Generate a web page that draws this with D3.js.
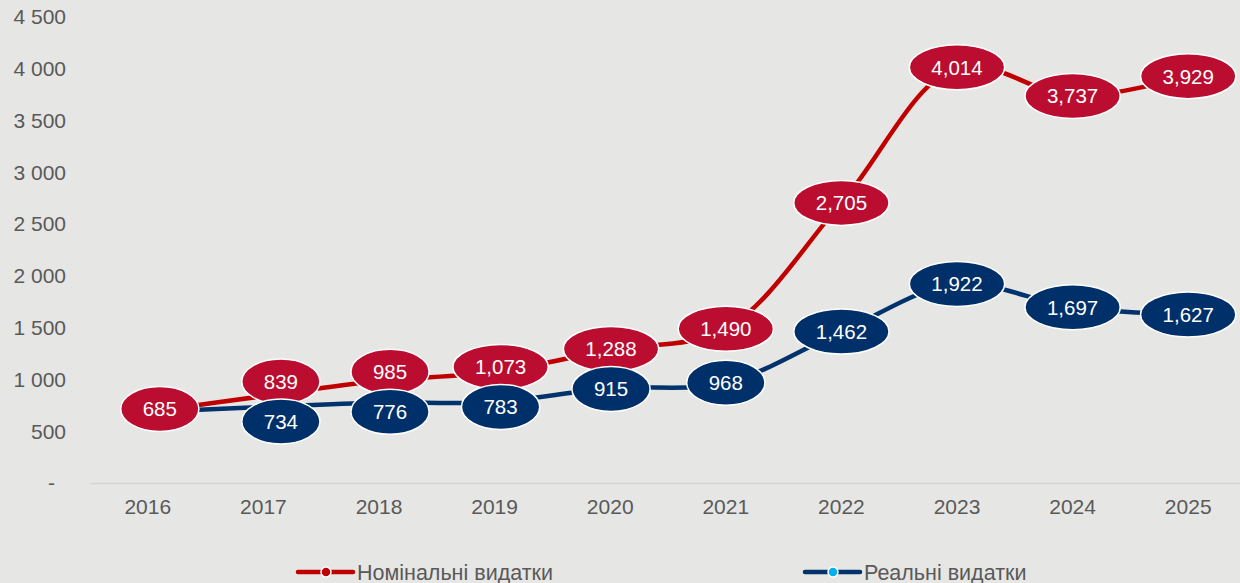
<!DOCTYPE html>
<html>
<head>
<meta charset="utf-8">
<script src="https://cdn.jsdelivr.net/npm/d3@7"></script>
<style>
  body { margin: 0; background: #e6e6e4; }
  svg { display: block; font-family: "Liberation Sans", Arial, sans-serif; }
</style>
</head>
<body>
<div id="chart"></div>
<script>
// chart data
const years = ["2016", "2017", "2018", "2019", "2020", "2021", "2022", "2023", "2024", "2025"];
const nominal = [685, 839, 985, 1073, 1288, 1490, 2705, 4014, 3737, 3929];
const real = [685, 734, 776, 783, 915, 968, 1462, 1922, 1697, 1627];
const yTicks = [0, 500, 1000, 1500, 2000, 2500, 3000, 3500, 4000, 4500];
const seriesNames = ["Номінальні видатки", "Реальні видатки"];

const width = 1240, height = 583;
const margin = {top: 17, right: -6, bottom: 100, left: 90};

const svg = d3.select("#chart").append("svg")
    .attr("width", width)
    .attr("height", height);

svg.append("rect").attr("width", width).attr("height", height).attr("fill", "#e6e6e4");

const x = d3.scaleBand()
    .domain(years)
    .range([margin.left, width - margin.right])
    .padding(0);
const cx = d => x(d) + x.bandwidth() / 2;

const y = d3.scaleLinear()
    .domain([0, 4500])
    .range([height - margin.bottom, margin.top]);

//y axis labels, no line
const fmt = v => v === 0 ? "-" : d3.format(",")(v).replace(/,/g, " ");
svg.append("g")
    .selectAll("text")
    .data(yTicks)
    .join("text")
        .attr("x", d => d === 0 ? 55 : 66)
        .attr("y", d => y(d))
        .attr("dy", "0.35em")
        .attr("text-anchor", "end")
        .attr("font-size", 21)
        .attr("fill", "#595959")
        .text(fmt);

//x axis
const xaxis = svg.append("g")
    .attr("transform", "translate(0," + y(0) + ")")
    .call(d3.axisBottom(x).tickSize(0).tickPadding(16));
xaxis.select(".domain").attr("stroke", "#d4d4d2").attr("stroke-width", 1.5);
xaxis.selectAll(".tick text")
    .attr("font-size", 21)
    .attr("font-family", "Liberation Sans, Arial, sans-serif")
    .attr("fill", "#595959");

const series = [
    {name: seriesNames[0], values: nominal, line: "#c00000", marker: "#c00000", label: "#ba0d30", side: -1},
    {name: seriesNames[1], values: real, line: "#00336b", marker: "#00b0f0", label: "#00306a", side: 1}
];

const line = d3.line()
    .x((d, i) => cx(years[i]))
    .y(d => y(d))
    .curve(d3.curveCatmullRom.alpha(0.5));

series.forEach(s => {
    svg.append("path")
        .datum(s.values)
        .attr("fill", "none")
        .attr("stroke", s.line)
        .attr("stroke-width", 4.5)
        .attr("d", line);
});

series.forEach(s => {
    svg.append("g").selectAll("circle")
        .data(s.values)
        .join("circle")
            .attr("cx", (d, i) => cx(years[i]))
            .attr("cy", d => y(d))
            .attr("r", 5)
            .attr("fill", s.marker)
            .attr("stroke", "#fff")
            .attr("stroke-width", 1);
});

//labels: where the two series sit close, push nominal up and real down
const minGap = 40;
function labelPos(s, i) {
    const yn = y(nominal[i]), yr = y(real[i]);
    let px = cx(years[i]), py = y(s.values[i]);
    if (i === 0) {
        // shared base-year point, label sits a bit to the right
        px += 12;
        py -= 3;
    } else if (Math.abs(yr - yn) < minGap) {
        const mid = (yn + yr) / 2;
        py = mid + s.side * minGap / 2;
        px += (minGap - Math.abs(yr - yn)) * 0.6;
    }
    return [px, py];
}

series.forEach(s => {
    const g = svg.append("g");
    s.values.forEach((v, i) => {
        // base year is the same for both series, only one label
        if (s.side === 1 && i === 0) return;
        const [px, py] = labelPos(s, i);
        const lg = g.append("g").attr("transform", "translate(" + px + "," + py + ")");
        const el = lg.append("ellipse")
            .attr("fill", s.label)
            .attr("stroke", "#fff")
            .attr("stroke-width", 1.5)
            .attr("ry", 22.5);
        const t = lg.append("text")
            .attr("text-anchor", "middle")
            .attr("dy", "0.36em")
            .attr("font-size", 20.5)
            .attr("fill", "#fff")
            .text(d3.format(",")(v));
        const w = t.node().getComputedTextLength();
        el.attr("rx", w / 2 + 22);
    });
});

//legend
const legend = svg.append("g");
const legendX = [298, 805];
series.forEach((s, i) => {
    const lg = legend.append("g").attr("transform", "translate(" + legendX[i] + ",572)");
    lg.append("line")
        .attr("x1", 0).attr("x2", 55)
        .attr("stroke", s.line)
        .attr("stroke-width", 4.5)
        .attr("stroke-linecap", "round");
    lg.append("circle")
        .attr("cx", 28).attr("r", 5)
        .attr("fill", s.marker)
        .attr("stroke", "#fff")
        .attr("stroke-width", 1.5);
    lg.append("text")
        .attr("x", 59)
        .attr("dy", "0.36em")
        .attr("font-size", 21.5)
        .attr("fill", "#595959")
        .text(s.name);
});
</script>
</body>
</html>
